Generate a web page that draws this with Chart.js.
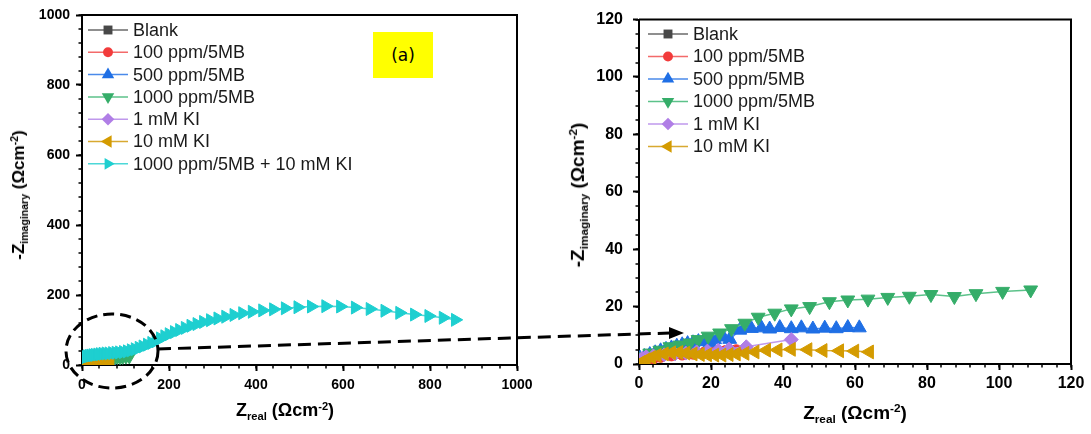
<!DOCTYPE html>
<html>
<head>
<meta charset="utf-8">
<script src="https://cdn.jsdelivr.net/npm/chart.js@4.4.0/dist/chart.umd.min.js"></script>
<style>
  body { margin: 0; background: #fff; width: 1091px; height: 434px; position: relative; overflow: hidden;
         font-family: "Liberation Sans", Arial, sans-serif; color: #000; }
  .pane { position: absolute; top: 0; height: 434px; }
  #leftPane { left: 0; width: 545px; }
  #rightPane { left: 545px; width: 546px; }
  .title { position: absolute; white-space: nowrap; font-weight: bold; transform: translate(-50%, -50%); }
  .title.rot { transform: translate(-50%, -50%) rotate(-90deg); }
  .title sub { font-size: 0.62em; vertical-align: -0.35em; }
  .title sup { font-size: 0.62em; vertical-align: 0.6em; }
  #tag { position: absolute; left: 373px; top: 32px; width: 60px; height: 46px; background: #ffff00;
         font-family: "DejaVu Sans", sans-serif; font-size: 17px; line-height: 46px; text-align: center; }
  #overlay { position: absolute; left: 0; top: 0; pointer-events: none; }
</style>
</head>
<body>
<div class="pane" id="leftPane"><canvas id="left"></canvas></div>
<div class="pane" id="rightPane"><canvas id="right"></canvas></div>

<div class="title rot" style="left:19px; top:195px; font-size:17px;">-Z<sub>imaginary</sub> (Ωcm<sup>-2</sup>)</div>
<div class="title" style="left:285px; top:411px; font-size:18px;">Z<sub>real</sub> (Ωcm<sup>-2</sup>)</div>
<div class="title rot" style="left:578px; top:195px; font-size:19px;">-Z<sub>imaginary</sub> (Ωcm<sup>-2</sup>)</div>
<div class="title" style="left:855px; top:413px; font-size:19px;">Z<sub>real</sub> (Ωcm<sup>-2</sup>)</div>
<div id="tag">(a)</div>

<svg id="overlay" width="1091" height="434">
  <ellipse cx="112" cy="351" rx="46" ry="37" fill="none" stroke="#000" stroke-width="3" stroke-dasharray="11 6"/>
  <line x1="158" y1="349" x2="670" y2="333" stroke="#000" stroke-width="3" stroke-dasharray="13 7"/>
  <polygon points="684,333 669,327 669,339" fill="#000"/>
</svg>

<script>
// series names, as in the legends
const names = ['Blank', '100 ppm/5MB', '500 ppm/5MB', '1000 ppm/5MB', '1 mM KI', '10 mM KI', '1000 ppm/5MB + 10 mM KI'];

// Z real / -Z imaginary per series (Ω cm^-2)
const blankX = [0.3, 0.8, 1.5, 2.5, 3.5];
const blankY = [0.6, 1.0, 1.4, 1.7, 2.0];

const mb100X = [0.5, 2, 4, 6, 9, 12, 15, 18, 21, 24, 27];
const mb100Y = [1.0, 1.5, 2.0, 2.5, 3.0, 3.3, 3.6, 3.9, 4.2, 4.5, 4.8];

const mb500X = [0.3, 1.5, 3, 4.5, 6, 7.5, 9, 10.5, 12, 13.5, 15, 16.5, 18, 19.7, 21, 23.4, 25.2, 28, 31.2, 34, 36.3, 39.1, 42.3, 45.1, 48.3, 51.6, 54.8, 58, 61.2];
const mb500Y = [2.0, 2.6, 3.3, 3.9, 4.6, 5.1, 5.6, 6.2, 6.7, 7.1, 7.4, 7.8, 8.0, 7.4, 8.5, 9.4, 8.6, 11.8, 12.4, 12.6, 12.2, 12.7, 12.3, 12.6, 12.2, 12.5, 12.3, 12.7, 12.6];

const mb1000X = [0.7, 3, 5.8, 8.6, 11.4, 14.1, 16.4, 19.2, 22.4, 25.7, 29.4, 33.1, 37.7, 42.3, 47.4, 52.9, 58, 63.6, 69.1, 75.1, 81.1, 87.6, 93.6, 101, 108.8];
const mb1000Y = [2.5, 3.8, 4.8, 6.0, 6.6, 7.3, 8.5, 9.7, 10.8, 12.3, 14.2, 16.3, 17.7, 19.2, 20.0, 21.7, 22.3, 22.6, 23.2, 23.6, 24.2, 23.5, 24.5, 25.3, 25.8];

const ki1X = [0.5, 1, 2, 4, 7, 10, 13, 16, 19, 22, 25, 29.8, 42.3];
const ki1Y = [1.5, 2.0, 2.5, 2.8, 3.2, 3.5, 3.8, 4.2, 4.5, 4.8, 5.2, 6.0, 8.5];

const ki10X = [0.5, 2, 3.5, 5, 7, 9, 11, 13, 15, 17, 19, 21, 23, 25, 27, 29.4, 32.2, 35.4, 38.6, 42.3, 46.9, 51.1, 55.7, 59.9, 64];
const ki10Y = [0.5, 1.5, 2.3, 3.0, 3.5, 3.9, 4.0, 3.8, 3.5, 3.3, 3.2, 3.1, 3.1, 3.3, 3.5, 3.7, 4.2, 4.8, 4.9, 5.1, 5.0, 4.7, 4.6, 4.5, 4.2];

const mixX = [2, 5, 8, 12, 16, 20, 25, 30, 36, 42, 48, 55, 62, 70, 78, 86, 95, 104, 113, 122, 131, 140, 150, 160, 170, 180, 190, 200, 212, 224, 237, 250, 264, 279, 295, 312, 330, 349, 369, 391, 415, 440, 467, 496, 527, 560, 594, 628, 662, 696, 730, 764, 797, 830, 858];
const mixY = [18, 21, 23, 25, 26, 27, 28, 29, 30, 31, 32, 33, 33, 34, 35, 36, 37, 39, 42, 45, 49, 53, 58, 63, 68, 76, 82, 88, 94, 100, 106, 112, 117, 123, 128, 133, 138, 143, 148, 152, 156, 159, 162, 165, 167, 168, 167, 164, 160, 155, 149, 144, 140, 135, 129];

// axis ticks
const leftTicks = { min: 0, max: 1000, step: 200, minorX: 40, minorY: 40 };
const rightTicks = { xMin: 0, xMax: 120, yMin: 0, yMax: 120, step: 20, minorX: 4, minorY: 5 };

const markColors = ['#484848', '#f23b3b', '#1f6fe5', '#35ad69', '#b07ee6', '#d49b00', '#1ecfd0'];
const lineColors = ['#6a6a6a', '#f36a6a', '#4a8aea', '#5cc28a', '#bf98ec', '#d8a930', '#4dd8d8'];
const styles = [
  { pointStyle: 'rect', rot: 0, r: 7 },
  { pointStyle: 'circle', rot: 0, r: 5.5 },
  { pointStyle: 'triangle', rot: 0, r: 8 },
  { pointStyle: 'triangle', rot: 180, r: 8 },
  { pointStyle: 'rectRot', rot: 0, r: 7 },
  { pointStyle: 'triangle', rot: -90, r: 8 },
  { pointStyle: 'triangle', rot: 90, r: 7.5 }
];

const allX = [blankX, mb100X, mb500X, mb1000X, ki1X, ki10X, mixX];
const allY = [blankY, mb100Y, mb500Y, mb1000Y, ki1Y, ki10Y, mixY];

const FONT = '"Liberation Sans", Arial, sans-serif';

function makeSets(count, scale) {
  const sets = [];
  for (let i = 0; i < count; i++) {
    sets.push({
      label: names[i],
      data: allX[i].map((x, k) => ({ x: x, y: allY[i][k] })),
      borderColor: lineColors[i],
      backgroundColor: markColors[i],
      pointBackgroundColor: markColors[i],
      pointBorderColor: markColors[i],
      borderWidth: 1.5,
      pointStyle: styles[i].pointStyle,
      pointRotation: styles[i].rot,
      pointRadius: styles[i].r * scale,
      pointBorderWidth: 1,
      showLine: true,
      order: -i
    });
  }
  return sets;
}

// marker for the legend (same shapes as Chart.js points)
function marker(ctx, style, rot, r, x, y) {
  ctx.save();
  ctx.translate(x, y);
  ctx.rotate(rot * Math.PI / 180);
  ctx.beginPath();
  if (style === 'circle') {
    ctx.arc(0, 0, r, 0, Math.PI * 2);
  } else if (style === 'rect') {
    const s = r * Math.SQRT1_2;
    ctx.rect(-s, -s, 2 * s, 2 * s);
  } else if (style === 'rectRot') {
    ctx.moveTo(0, -r); ctx.lineTo(r, 0); ctx.lineTo(0, r); ctx.lineTo(-r, 0); ctx.closePath();
  } else {
    const h = r * Math.sqrt(3) / 2;
    ctx.moveTo(0, -r); ctx.lineTo(h, r / 2); ctx.lineTo(-h, r / 2); ctx.closePath();
  }
  ctx.fill();
  ctx.restore();
}

const legendBox = {
  id: 'legendBox',
  afterDraw(chart, args, opts) {
    const ctx = chart.ctx;
    ctx.save();
    ctx.font = opts.size + 'px ' + FONT;
    ctx.textBaseline = 'middle';
    chart.data.datasets.forEach((ds, i) => {
      const y = opts.y + i * opts.gap;
      ctx.strokeStyle = ds.borderColor;
      ctx.lineWidth = 1.5;
      ctx.beginPath();
      ctx.moveTo(opts.x, y);
      ctx.lineTo(opts.x + 40, y);
      ctx.stroke();
      ctx.fillStyle = ds.pointBackgroundColor;
      marker(ctx, ds.pointStyle, ds.pointRotation, styles[i].r * 0.9, opts.x + 20, y);
      ctx.fillStyle = '#1a1a1a';
      ctx.fillText(ds.label, opts.x + 45, y + 1);
    });
    ctx.restore();
  }
};

// top/right frame plus small minor ticks
const frame = {
  id: 'frame',
  afterDraw(chart, args, opts) {
    const { ctx, chartArea: a, scales: { x, y } } = chart;
    ctx.save();
    ctx.strokeStyle = '#000';
    ctx.lineWidth = 2;
    ctx.beginPath();
    ctx.moveTo(a.left, a.top);
    ctx.lineTo(a.right, a.top);
    ctx.lineTo(a.right, a.bottom);
    ctx.stroke();
    ctx.lineWidth = 1.5;
    ctx.beginPath();
    for (let v = x.min; v <= x.max + 1e-9; v += opts.minorX) {
      const px = Math.round(x.getPixelForValue(v));
      ctx.moveTo(px, a.bottom); ctx.lineTo(px, a.bottom + 3.5);
    }
    for (let v = y.min; v <= y.max + 1e-9; v += opts.minorY) {
      const py = Math.round(y.getPixelForValue(v));
      ctx.moveTo(a.left, py); ctx.lineTo(a.left - 3.5, py);
    }
    ctx.stroke();
    ctx.restore();
  }
};

function axis(min, max, step, size, pad, fit) {
  return {
    type: 'linear', min: min, max: max,
    ticks: { stepSize: step, color: '#000', padding: pad, callback: v => String(v),
             font: { family: FONT, size: size, weight: 'bold' } },
    grid: { drawOnChartArea: false, drawTicks: true, tickLength: 6, tickColor: '#000', tickWidth: 2 },
    border: { display: true, color: '#000', width: 2 },
    afterFit: fit
  };
}

new Chart(document.getElementById('left'), {
  type: 'scatter',
  data: { datasets: makeSets(7, 1) },
  plugins: [legendBox, frame],
  options: {
    responsive: true, maintainAspectRatio: false, animation: false,
    layout: { padding: { top: 15, right: 28, left: 0, bottom: 0 } },
    scales: {
      x: axis(leftTicks.min, leftTicks.max, leftTicks.step, 14, 6, s => { s.height = 69; }),
      y: axis(leftTicks.min, leftTicks.max, leftTicks.step, 14, 6, s => { s.width = 82; })
    },
    plugins: {
      legend: { display: false }, tooltip: { enabled: false },
      legendBox: { x: 88, y: 30, gap: 22.3, size: 18 },
      frame: { minorX: leftTicks.minorX, minorY: leftTicks.minorY }
    }
  }
});

new Chart(document.getElementById('right'), {
  type: 'scatter',
  data: { datasets: makeSets(6, 1) },
  plugins: [legendBox, frame],
  options: {
    responsive: true, maintainAspectRatio: false, animation: false,
    layout: { padding: { top: 16, right: 20, left: 0, bottom: 0 } },
    scales: {
      x: axis(rightTicks.xMin, rightTicks.xMax, rightTicks.step, 16, 4, s => { s.height = 70; }),
      y: axis(rightTicks.yMin, rightTicks.yMax, rightTicks.step, 16, 10, s => { s.width = 94; })
    },
    plugins: {
      legend: { display: false }, tooltip: { enabled: false },
      legendBox: { x: 103, y: 34, gap: 22.5, size: 18 },
      frame: { minorX: rightTicks.minorX, minorY: rightTicks.minorY }
    }
  }
});
</script>
</body>
</html>
